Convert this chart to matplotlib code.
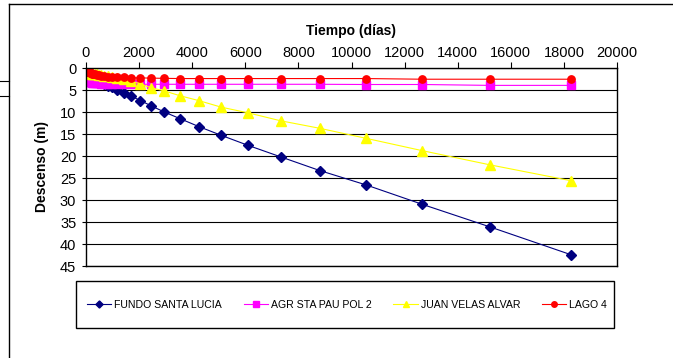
import matplotlib
matplotlib.use('Agg')
import matplotlib.pyplot as plt
from matplotlib.lines import Line2D
from matplotlib.patches import Rectangle
from matplotlib import rc
rc('font', **{'family': 'sans-serif', 'sans-serif': ['Liberation Sans', 'DejaVu Sans'], 'size': 10})

# tiempo (dias) de cada medicion
tiempo = [1, 2, 3, 5, 7, 10, 12, 15, 18, 21, 26, 31, 37, 44, 53, 64, 77, 92, 110, 133,
          159, 191, 229, 275, 330, 396, 476, 571, 685, 822, 987, 1184, 1421, 1706, 2047,
          2456, 2948, 3537, 4244, 5093, 6112, 7334, 8801, 10562, 12674, 15208, 18250]

fundo_santa_lucia = [1.2, 1.3, 1.4, 1.5, 1.6, 1.7, 1.75, 1.8, 1.85, 1.9, 1.95, 2.0, 2.05, 2.1,
                     2.15, 2.2, 2.25, 2.3, 2.35, 2.45, 2.5, 2.6, 2.7, 2.8, 2.95, 3.1, 3.25,
                     3.45, 3.7, 4.0, 4.4, 4.9, 5.6, 6.4, 7.4, 8.6, 10.0, 11.5, 13.3, 15.3,
                     17.6, 20.2, 23.3, 26.6, 31.0, 36.1, 42.4]

agr_sta_pau = [1.0, 1.3, 1.5, 1.7, 1.9, 2.0, 2.1, 2.2, 2.3, 2.35, 2.45, 2.5, 2.6, 2.65, 2.75,
               2.8, 2.9, 2.95, 3.0, 3.1, 3.15, 3.2, 3.3, 3.35, 3.4, 3.45, 3.5, 3.55, 3.6,
               3.6, 3.65, 3.7, 3.7, 3.7, 3.7, 3.7, 3.7, 3.7, 3.7, 3.7, 3.7, 3.7, 3.7, 3.75,
               3.75, 3.95, 3.95]

juan_velas = [0.2, 0.3, 0.4, 0.5, 0.55, 0.6, 0.65, 0.7, 0.72, 0.75, 0.8, 0.82, 0.85, 0.9,
              0.92, 0.95, 1.0, 1.02, 1.05, 1.1, 1.15, 1.2, 1.25, 1.3, 1.38, 1.45, 1.55,
              1.65, 1.75, 1.9, 2.05, 2.3, 2.6, 3.0, 3.6, 4.5, 5.2, 6.3, 7.4, 8.9, 10.2,
              12.0, 13.7, 16.0, 18.8, 22.0, 25.6]

lago_4 = [0.0, 0.05, 0.1, 0.15, 0.2, 0.25, 0.3, 0.35, 0.4, 0.45, 0.5, 0.55, 0.6, 0.65, 0.7,
          0.75, 0.8, 0.85, 0.9, 1.0, 1.05, 1.15, 1.25, 1.35, 1.45, 1.55, 1.65, 1.75, 1.85,
          1.95, 2.0, 2.1, 2.15, 2.2, 2.25, 2.3, 2.35, 2.4, 2.4, 2.4, 2.4, 2.4, 2.4, 2.4,
          2.55, 2.55, 2.55]

nombres = ["FUNDO SANTA LUCIA", "AGR STA PAU POL 2", "JUAN VELAS ALVAR", "LAGO 4"]

W, H = 673, 358
fig = plt.figure(figsize=(W / 100, H / 100), dpi=100)
ax = fig.add_axes([86 / W, 1 - 266 / H, (617 - 86) / W, (266 - 68) / H])

ax.plot(tiempo, fundo_santa_lucia, color='#000080', marker='D', ms=4.8, lw=0.8, label=nombres[0])
ax.plot(tiempo, agr_sta_pau, color='#FF00FF', marker='s', ms=5.3, lw=0.8, label=nombres[1])
ax.plot(tiempo, juan_velas, color='#FFFF00', marker='^', ms=6.5, lw=0.8, label=nombres[2])
ax.plot(tiempo, lago_4, color='#FF0000', marker='o', ms=5.3, lw=0.8, label=nombres[3])

ax.set_xlim(0, 20000)
ax.set_ylim(45, 0)
ax.set_xticks(range(0, 20001, 2000))
ax.set_yticks(range(0, 46, 5))
ax.xaxis.tick_top()
ax.xaxis.set_label_position('top')
ax.tick_params(axis='x', direction='out', length=4, width=0.8, pad=2, labelsize=10.5)
ax.tick_params(axis='y', direction='out', length=3, width=0.8, pad=4, labelsize=10.5)
for s in ax.spines.values():
    s.set_linewidth(1.0)
    s.set_color('black')
ax.grid(axis='y', color='black', lw=0.8)
ax.set_axisbelow(True)

ax.set_xlabel('Tiempo (días)', fontweight='bold', fontsize=10, labelpad=8)
ax.set_ylabel('Descenso (m)', fontweight='bold', fontsize=10, labelpad=8)

# caja de la leyenda
fig.add_artist(Rectangle((76 / W, 1 - 328 / H), (614 - 76) / W, (328 - 281) / H,
                         transform=fig.transFigure, fill=False, ec='black', lw=1.0))
fig.legend(loc='center', bbox_to_anchor=(347 / W, 1 - 304.5 / H), ncol=4, frameon=False,
           fontsize=7.6, handlelength=2.3, handletextpad=0.3, columnspacing=2.05, markerscale=0.75)

# marco exterior del grafico
fig.add_artist(Line2D([9 / W, 9 / W], [0, 1 - 4 / H], transform=fig.transFigure, color='black', lw=1.0))
fig.add_artist(Line2D([9 / W, 1], [1 - 4 / H, 1 - 4 / H], transform=fig.transFigure, color='black', lw=1.0))
fig.add_artist(Line2D([0, 9 / W], [1 - 81 / H, 1 - 81 / H], transform=fig.transFigure, color='black', lw=0.8))
fig.add_artist(Line2D([0, 9 / W], [1 - 96 / H, 1 - 96 / H], transform=fig.transFigure, color='black', lw=0.8))

fig.savefig('out.png', dpi=100)
